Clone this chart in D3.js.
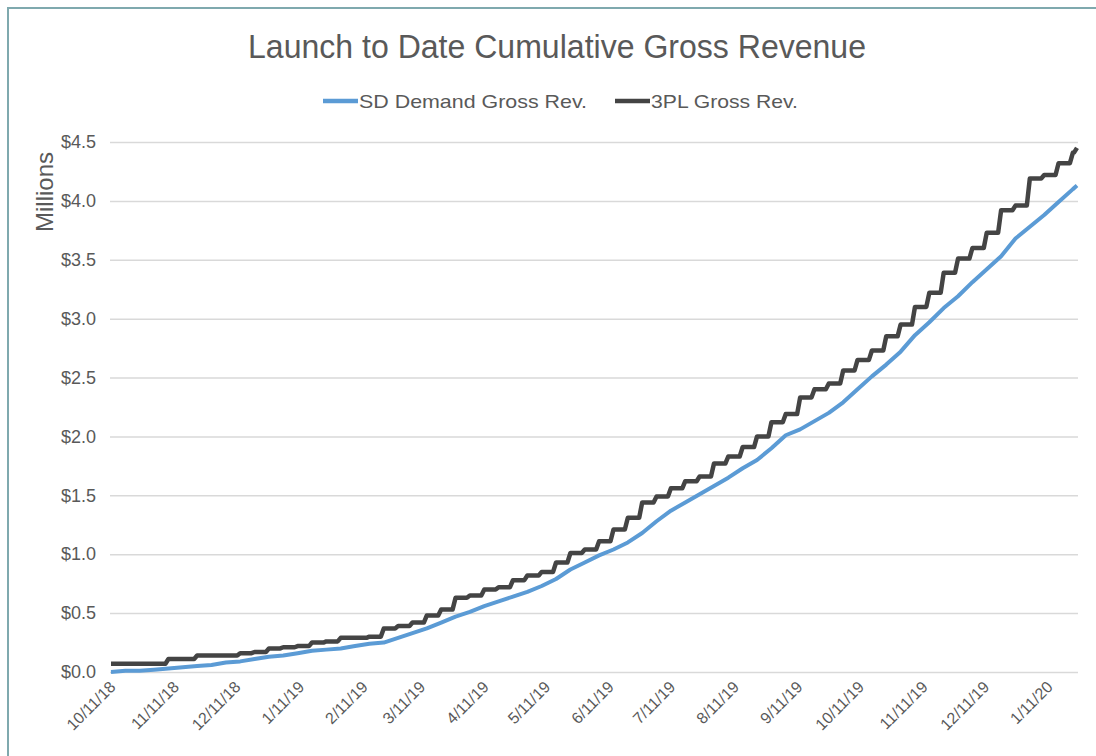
<!DOCTYPE html>
<html>
<head>
<meta charset="utf-8">
<script src="https://cdn.jsdelivr.net/npm/d3@7"></script>
<style>
  html, body { margin: 0; padding: 0; background: #ffffff; }
  svg { display: block; }
  text { font-family: "Liberation Sans", Arial, sans-serif; }
</style>
</head>
<body>
<svg id="chart" width="1096" height="756"></svg>
<script>
// ---- Data (values in millions of dollars) ----
const weekDates = [
  "2018-10-11","2018-10-18","2018-10-25","2018-11-01","2018-11-08","2018-11-15","2018-11-22","2018-11-29",
  "2018-12-06","2018-12-13","2018-12-20","2018-12-27","2019-01-03","2019-01-10","2019-01-17","2019-01-24",
  "2019-01-31","2019-02-07","2019-02-14","2019-02-21","2019-02-28","2019-03-07","2019-03-14","2019-03-21",
  "2019-03-28","2019-04-04","2019-04-11","2019-04-18","2019-04-25","2019-05-02","2019-05-09","2019-05-16",
  "2019-05-23","2019-05-30","2019-06-06","2019-06-13","2019-06-20","2019-06-27","2019-07-04","2019-07-11",
  "2019-07-18","2019-07-25","2019-08-01","2019-08-08","2019-08-15","2019-08-22","2019-08-29","2019-09-05",
  "2019-09-12","2019-09-19","2019-09-26","2019-10-03","2019-10-10","2019-10-17","2019-10-24","2019-10-31",
  "2019-11-07","2019-11-14","2019-11-21","2019-11-28","2019-12-05","2019-12-12","2019-12-19","2019-12-26",
  "2020-01-02","2020-01-09","2020-01-16","2020-01-23","2020-01-25"
];
const sdDemand = [
  0.00,0.01,0.01,0.02,0.03,0.04,0.05,0.06,0.08,0.09,
  0.11,0.13,0.14,0.16,0.18,0.19,0.20,0.22,0.24,0.25,
  0.29,0.33,0.37,0.42,0.47,0.51,0.56,0.60,0.64,0.68,
  0.73,0.79,0.87,0.93,0.99,1.04,1.10,1.18,1.28,1.37,
  1.44,1.51,1.58,1.65,1.73,1.80,1.90,2.01,2.06,2.13,
  2.20,2.29,2.40,2.51,2.61,2.72,2.86,2.97,3.09,3.19,
  3.31,3.42,3.53,3.68,3.78,3.88,3.99,4.10,4.13
];
const threePL = [
  0.07,0.07,0.07,0.07,0.11,0.11,0.14,0.14,0.14,0.16,
  0.17,0.20,0.21,0.22,0.25,0.26,0.29,0.29,0.30,0.37,
  0.39,0.42,0.48,0.53,0.63,0.65,0.70,0.72,0.78,0.82,
  0.85,0.93,1.01,1.04,1.11,1.21,1.31,1.44,1.49,1.56,
  1.62,1.66,1.77,1.83,1.91,2.00,2.12,2.19,2.33,2.40,
  2.45,2.56,2.65,2.73,2.85,2.95,3.10,3.22,3.39,3.51,
  3.60,3.73,3.92,3.96,4.19,4.22,4.32,4.41,4.45
];
const xTickLabels = [
  "10/11/18","11/11/18","12/11/18","1/11/19","2/11/19","3/11/19","4/11/19","5/11/19",
  "6/11/19","7/11/19","8/11/19","9/11/19","10/11/19","11/11/19","12/11/19","1/11/20"
];
const yTicks = [0, 0.5, 1.0, 1.5, 2.0, 2.5, 3.0, 3.5, 4.0, 4.5];
const seriesNames = ["SD Demand Gross Rev.", "3PL Gross Rev."];
const seriesColors = ["#5b9bd5", "#444444"];

// ---- Build ----
const parseISO = d3.timeParse("%Y-%m-%d");
const parseTick = d3.timeParse("%m/%d/%y");
const dates = weekDates.map(parseISO);
const tickDates = xTickLabels.map(parseTick);

const svg = d3.select("#chart");
const plot = { left: 111, right: 1077, top: 142, bottom: 672 };

// frame
svg.append("rect")
  .attr("x", 8).attr("y", 8)
  .attr("width", 1100).attr("height", 760)
  .attr("fill", "none")
  .attr("stroke", "#7fa9ae")
  .attr("stroke-width", 2);

const x = d3.scaleTime()
  .domain([dates[0], dates[dates.length - 1]])
  .range([plot.left, plot.right]);
const y = d3.scaleLinear()
  .domain([0, 4.5])
  .range([plot.bottom, plot.top]);

// gridlines
svg.append("g")
  .attr("transform", `translate(${plot.left - 1},0)`)
  .call(d3.axisLeft(y).tickValues(yTicks).tickSize(-(plot.right - plot.left + 2)).tickFormat(""))
  .call(g => g.select(".domain").remove())
  .call(g => g.selectAll("line").attr("stroke", "#d9d9d9").attr("stroke-width", 1.5));

// y axis labels
svg.append("g")
  .attr("transform", `translate(${plot.left - 15},0)`)
  .call(d3.axisLeft(y).tickValues(yTicks).tickSize(0).tickPadding(0)
    .tickFormat(d => "$" + d.toFixed(1)))
  .call(g => g.select(".domain").remove())
  .call(g => g.selectAll("text")
    .attr("fill", "#595959")
    .style("font-size", "18px"));

// x axis labels
svg.append("g")
  .attr("transform", `translate(0,${plot.bottom})`)
  .call(d3.axisBottom(x).tickValues(tickDates).tickSize(0)
    .tickFormat((d, i) => xTickLabels[i]))
  .call(g => g.select(".domain").remove())
  .call(g => g.selectAll("text")
    .attr("fill", "#595959")
    .style("font-size", "16px")
    .attr("text-anchor", "end")
    .attr("dy", null)
    .attr("y", 0)
    .attr("transform", "translate(5,16) rotate(-45)"));

// axis title
svg.append("text")
  .attr("transform", "translate(53,192) rotate(-90)")
  .attr("text-anchor", "middle")
  .attr("fill", "#595959")
  .style("font-size", "24px")
  .text("Millions");

// step curve whose risers slope over a few pixels (library line generator + custom curve)
function curveRampStep(context) {
  return {
    areaStart() {}, areaEnd() {},
    lineStart() { this._x = this._y = NaN; this._p = 0; },
    lineEnd() {},
    point(px, py) {
      if (this._p === 0) { this._p = 1; context.moveTo(px, py); }
      else {
        const xr = Math.max(this._x, px - 3);
        context.lineTo(xr, this._y);
        context.lineTo(px, py);
      }
      this._x = px; this._y = py;
    }
  };
}

const lineSD = d3.line()
  .x((d, i) => x(dates[i]))
  .y(d => y(d))
  .curve(d3.curveLinear);
const line3PL = d3.line()
  .x((d, i) => x(dates[i]))
  .y(d => y(d))
  .curve(curveRampStep);

svg.append("path")
  .datum(threePL)
  .attr("d", line3PL)
  .attr("fill", "none")
  .attr("stroke", seriesColors[1])
  .attr("stroke-width", 4.5)
  .attr("stroke-linejoin", "round");

svg.append("path")
  .datum(sdDemand)
  .attr("d", lineSD)
  .attr("fill", "none")
  .attr("stroke", seriesColors[0])
  .attr("stroke-width", 4)
  .attr("stroke-linejoin", "round");

// title
svg.append("text")
  .attr("x", 557).attr("y", 58)
  .attr("text-anchor", "middle")
  .attr("fill", "#595959")
  .style("font-size", "34px")
  .attr("textLength", 618)
  .attr("lengthAdjust", "spacingAndGlyphs")
  .text("Launch to Date Cumulative Gross Revenue");

// legend
const legendItems = [
  { name: seriesNames[0], color: seriesColors[0], x0: 323, textLen: 228 },
  { name: seriesNames[1], color: seriesColors[1], x0: 615, textLen: 147 }
];
const lg = svg.append("g");
legendItems.forEach(it => {
  lg.append("line")
    .attr("x1", it.x0).attr("x2", it.x0 + 35)
    .attr("y1", 101).attr("y2", 101)
    .attr("stroke", it.color).attr("stroke-width", 4.5);
  lg.append("text")
    .attr("x", it.x0 + 36).attr("y", 108)
    .attr("fill", "#595959")
    .style("font-size", "19px")
    .attr("textLength", it.textLen)
    .attr("lengthAdjust", "spacingAndGlyphs")
    .text(it.name);
});
</script>
</body>
</html>
